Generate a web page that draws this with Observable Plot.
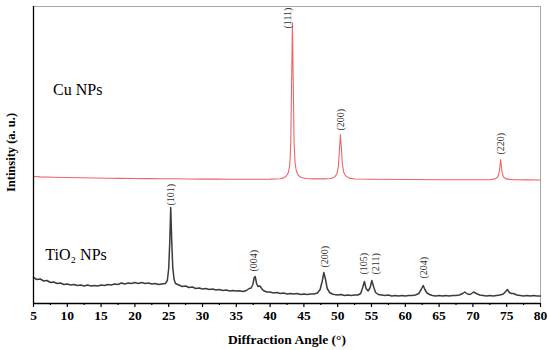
<!DOCTYPE html>
<html><head><meta charset="utf-8">
<script src="https://cdn.jsdelivr.net/npm/d3@7"></script>
<script src="https://cdn.jsdelivr.net/npm/@observablehq/plot@0.6"></script>
<style>body{margin:0;background:#fff}</style>
</head><body><div id="chart"></div>
<script>
// [2θ (deg), intensity (a.u.)]
const cuPattern = [[5,127],[6,126.6],[8,126.2],[10,126],[12,125.7],[14,125.5],[16,125.3],[18,125.1],[20,125],[22,124.9],[24,124.8],[26,124.7],[28,124.5],[30,124.4],[32,124.4],[34,124.3],[36,124.3],[38,124.3],[40,124.4],[41.5,124.8],[42.0,125.6],[42.4,127.5],[42.7,131],[42.9,138],[43.05,158],[43.15,205],[43.3,281],[43.45,208],[43.55,160],[43.7,140],[43.9,132],[44.2,128],[44.6,126],[45.3,125],[46.5,124.6],[48,124.6],[49.0,125],[49.6,126.8],[49.9,130],[50.1,137],[50.25,153],[50.4,169],[50.55,154],[50.7,139],[50.9,131],[51.2,127.5],[51.7,125.4],[52.5,124.5],[55,124.2],[60,124],[65,123.8],[70,123.7],[72.5,123.8],[73.3,124.6],[73.7,126.8],[73.9,131.5],[74.1,144],[74.3,131.5],[74.5,126.8],[74.9,124.6],[76,123.8],[78,123.6],[80,123.5]];

const tiPattern = [[5,26],[5.5,24],[6,24.5],[6.5,22.5],[7,23],[7.5,21],[8,21.5],[8.5,20],[9,20.5],[9.5,19],[10,19.5],[10.5,18.5],[11,19],[11.5,18],[12,18.5],[12.5,17.5],[13,18.5],[13.5,17.5],[14,18],[14.5,17.5],[15,18.5],[15.5,18],[16,19],[16.5,18.5],[17,19.5],[17.5,19],[18,20.5],[18.5,19.5],[19,20.5],[19.5,20],[20,21],[20.5,20],[21,21],[21.5,20],[22,20.5],[22.5,19.5],[23,20],[23.5,19],[24,19.5],[24.5,20],[24.8,23],[25.0,35],[25.15,60],[25.3,96],[25.45,62],[25.6,36],[25.8,24],[26.0,20],[26.5,18.5],[27,17],[27.5,17.5],[28,16],[28.5,16.5],[29,15],[29.5,15.5],[30,14.5],[30.5,15],[31,14],[31.5,14.5],[32,13.5],[32.5,14],[33,13],[33.5,13.5],[34,12.5],[34.5,13],[35,12.5],[35.5,12.8],[36,12],[36.5,13],[36.9,15],[37.2,15.5],[37.45,19],[37.65,26],[37.8,27],[38.0,20],[38.2,17],[38.5,17.5],[38.8,14.5],[39,13],[39.5,11.5],[40,11.5],[40.5,10.5],[41,11],[41.5,10],[42,10.5],[42.5,9.5],[43,10],[43.5,9.5],[44,10],[44.5,9],[45,9.5],[45.5,9],[46,9.5],[46.5,9.5],[47,10.5],[47.4,14],[47.7,22],[47.95,31],[48.2,24],[48.45,15],[48.8,11],[49.2,9.5],[49.5,9],[50,8.5],[50.5,9],[51,8],[51.5,8.5],[52,8],[52.5,8.5],[53,8.5],[53.4,10],[53.7,16],[53.95,22],[54.2,15],[54.5,12.5],[54.8,16],[55.05,23],[55.3,17],[55.6,11],[56,9],[56.5,8.5],[57,8],[57.5,8.5],[58,7.5],[58.5,8],[59,7.5],[59.5,8],[60,7.5],[60.5,8],[61,8],[61.5,8.5],[62,10],[62.35,14],[62.65,18],[62.9,14],[63.2,10.5],[63.6,9],[64,8],[64.5,7.5],[65,8],[65.5,7.5],[66,8],[66.5,7.5],[67,8],[67.5,8],[68,8.5],[68.5,10],[68.8,11.5],[69.2,9.5],[69.6,9],[70.1,11.5],[70.5,10],[71,8.5],[71.5,8],[72,7.5],[72.5,8],[73,7.5],[73.5,8],[74,8.5],[74.5,9.5],[74.85,12],[75.1,14],[75.4,11],[75.7,10],[76,10],[76.5,8.5],[77,8],[77.5,7.5],[78,8],[78.5,7.5],[79,8],[79.5,7.5],[80,7.5]];

const cuPeakLabels = ["(111)", "(200)", "(220)"];
const cuPeakAngles = [42.65, 50.4, 74.15];
const cuPeakLevels = [275, 173, 149];

const tiPeakLabels = ["(101)", "(004)", "(200)", "(105)", "(211)", "(204)"];
const tiPeakAngles = [25.35, 37.65, 48.1, 53.9, 55.7, 62.8];
const tiPeakLevels = [98, 32, 36, 29, 29, 25];

const sampleNames = ["Cu NPs", "TiO\u2082 NPs"];
const sampleAngles = [7.9, 6.75];
const sampleLevels = [214, 49];

const majorTicks = [5,10,15,20,25,30,35,40,45,50,55,60,65,70,75,80];
const minorTicks = [7.5,12.5,17.5,22.5,27.5,32.5,37.5,42.5,47.5,52.5,57.5,62.5,67.5,72.5,77.5];

const xLabel = "Diffraction Angle (\u00b0)";
const yLabel = "Intinsity (a. u.)";

const toRows = (arr) => arr.map(([a, v]) => ({a, v}));
const peakRows = (labels, angles, levels) => labels.map((t, i) => ({t, a: angles[i], v: levels[i]}));

const serif = "'Liberation Serif', 'Times New Roman', Times, serif";

const chart = Plot.plot({
  width: 550,
  height: 350,
  marginLeft: 33,
  marginRight: 10,
  marginTop: 6,
  marginBottom: 47,
  style: {fontFamily: serif, background: "#fff", color: "#000"},
  x: {domain: [5, 80], axis: null},
  y: {domain: [0, 297], axis: null},
  marks: [
    Plot.ruleY([297], {stroke: "#a8a8a8", strokeWidth: 1}),
    Plot.ruleX([80], {stroke: "#a8a8a8", strokeWidth: 1}),
    Plot.line(toRows(cuPattern), {x: "a", y: "v", stroke: "#f06464", strokeWidth: 1.1}),
    Plot.line(toRows(tiPattern), {x: "a", y: "v", stroke: "#3c3c3c", strokeWidth: 1.5}),
    Plot.text(peakRows(cuPeakLabels, cuPeakAngles, cuPeakLevels), {x: "a", y: "v", text: "t", rotate: -90, textAnchor: "start", lineAnchor: "middle", fontSize: 10, fill: "#333"}),
    Plot.text(peakRows(tiPeakLabels, tiPeakAngles, tiPeakLevels), {x: "a", y: "v", text: "t", rotate: -90, textAnchor: "start", lineAnchor: "middle", fontSize: 10, fill: "#333"}),
    Plot.text(peakRows(sampleNames, sampleAngles, sampleLevels), {x: "a", y: "v", text: "t", textAnchor: "start", lineAnchor: "middle", fontSize: 16, fill: "#000"}),
    Plot.text([yLabel], {x: 1.6, y: 151, text: d => d, rotate: -90, textAnchor: "middle", lineAnchor: "middle", fontSize: 12.5, fontWeight: "bold", fill: "#000"}),
    Plot.text([xLabel], {frameAnchor: "bottom", dy: 36, text: d => d, lineAnchor: "middle", fontSize: 13.5, fontWeight: "bold", fill: "#000"}),
    Plot.axisX(majorTicks, {tickSize: 4, tickPadding: 3, label: null, fontSize: 13.5, fontWeight: "bold", strokeWidth: 1.2, tickFormat: d => String(d)}),
    Plot.axisX(minorTicks, {tickSize: 2, text: null, label: null, strokeWidth: 1.2}),
    Plot.ruleY([0], {stroke: "#000", strokeWidth: 1.3}),
    Plot.ruleX([5], {stroke: "#000", strokeWidth: 1.3})
  ]
});
document.getElementById("chart").appendChild(chart);
</script>
</body></html>
